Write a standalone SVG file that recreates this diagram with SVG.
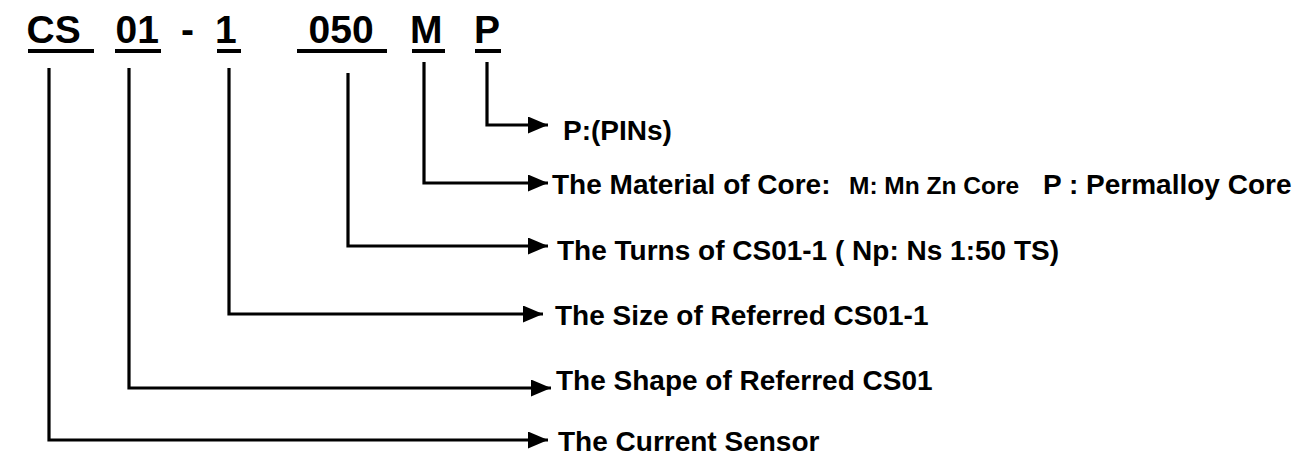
<svg xmlns="http://www.w3.org/2000/svg" width="1311" height="456" viewBox="0 0 1311 456">
<style>
.t{font-family:"Liberation Sans",Arial,sans-serif;font-weight:bold;fill:#000}
.code{font-size:39px}
.lbl{font-size:28px}
.sm{font-size:24.5px}
.ul{stroke:#000;stroke-width:4;fill:none}
.c{stroke:#000;stroke-width:3.2;fill:none;marker-end:url(#ah)}
</style>
<defs>
<marker id="ah" viewBox="0 0 20 17" refX="20" refY="8.5" markerWidth="20" markerHeight="17" markerUnits="userSpaceOnUse" orient="auto">
<path d="M0,0 L20,8.5 L0,17 Z" fill="#000"/>
</marker>
</defs>
<rect width="1311" height="456" fill="#fff"/>
<g id="code-CS"><text class="t code" x="26.5" y="43">CS</text><line class="ul" x1="28" y1="51" x2="94" y2="51"/></g>
<g id="code-01"><text class="t code" x="115.5" y="43">01</text><line class="ul" x1="115" y1="51" x2="161" y2="51"/></g>
<g id="code-dash"><text class="t code" x="181" y="43">-</text></g>
<g id="code-1"><text class="t code" x="215" y="43">1</text><line class="ul" x1="217" y1="51" x2="241" y2="51"/></g>
<g id="code-050"><text class="t code" x="308.5" y="43">050</text><line class="ul" x1="297" y1="51" x2="387" y2="51"/></g>
<g id="code-M"><text class="t code" x="410" y="43">M</text><line class="ul" x1="412" y1="51" x2="445" y2="51"/></g>
<g id="code-P"><text class="t code" x="474" y="43">P</text><line class="ul" x1="475" y1="51" x2="501" y2="51"/></g>
<g id="connectors">
<polyline class="c" points="487,62 487,125 548,125"/>
<polyline class="c" points="424,62 424,183 548,183"/>
<polyline class="c" points="348,73 348,246 548,246"/>
<polyline class="c" points="229,68 229,314 543,314"/>
<polyline class="c" points="129,68 129,388 551,388"/>
<polyline class="c" points="49,68 49,440 548,440"/>
</g>
<g id="label-pins"><text class="t lbl" x="563" y="140">P:(PINs)</text></g>
<g id="label-material"><text class="t lbl" y="194"><tspan x="552">The Material of Core:</tspan><tspan class="sm" x="849">M: Mn Zn Core</tspan><tspan x="1043">P : Permalloy Core</tspan></text></g>
<g id="label-turns"><text class="t lbl" x="557" y="260">The Turns of CS01-1 ( Np: Ns 1:50 TS)</text></g>
<g id="label-size"><text class="t lbl" x="555" y="325">The Size of Referred CS01-1</text></g>
<g id="label-shape"><text class="t lbl" x="556" y="390">The Shape of Referred CS01</text></g>
<g id="label-sensor"><text class="t lbl" x="558" y="451">The Current Sensor</text></g>
</svg>
